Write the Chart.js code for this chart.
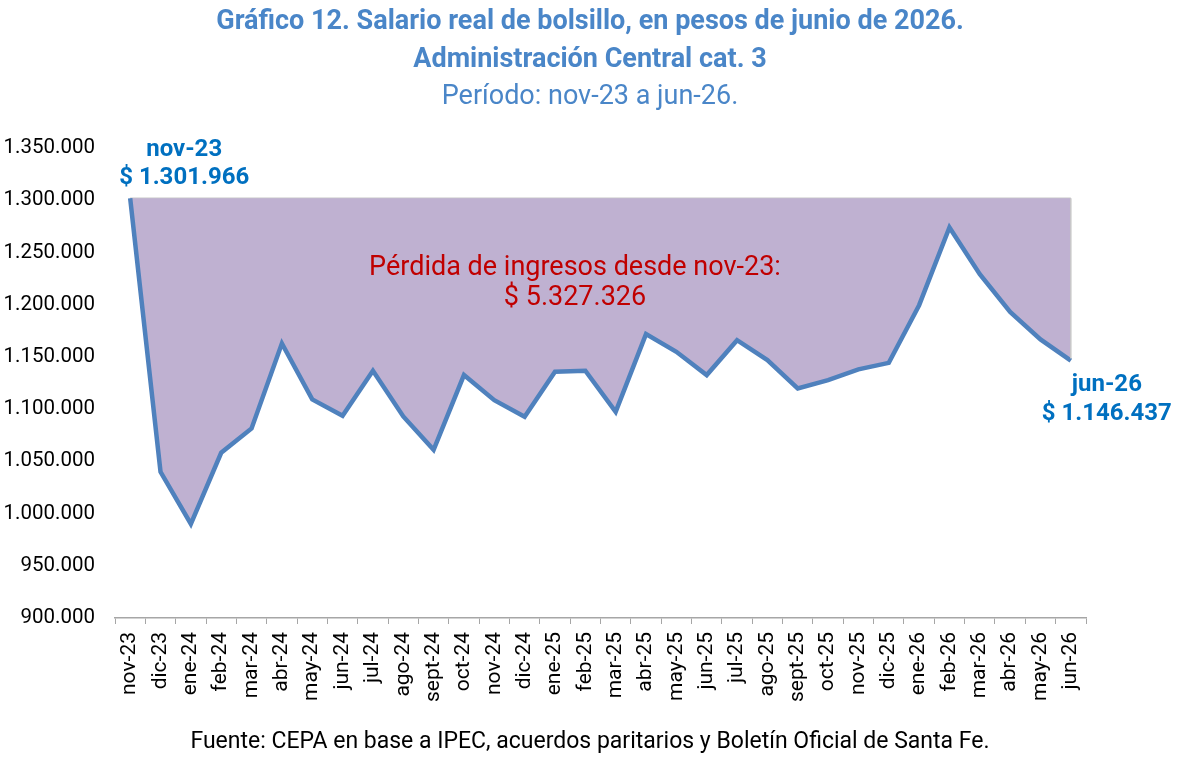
<!DOCTYPE html>
<html lang="es">
<head>
  <meta charset="UTF-8">
  <title>Salario real de bolsillo - Administración Central cat. 3</title>
  <script src="https://cdn.jsdelivr.net/npm/chart.js"></script>
  <style>
    html, body { margin: 0; padding: 0; background: #fff; }
    #wrap { width: 1180px; height: 758px; position: relative; }
  </style>
</head>
<body>
  <div id="wrap"><canvas id="salarioChart"></canvas></div>

  <script>
    // Meses del período
    var meses = [
      'nov-23', 'dic-23', 'ene-24', 'feb-24', 'mar-24', 'abr-24', 'may-24', 'jun-24',
      'jul-24', 'ago-24', 'sept-24', 'oct-24', 'nov-24', 'dic-24', 'ene-25', 'feb-25',
      'mar-25', 'abr-25', 'may-25', 'jun-25', 'jul-25', 'ago-25', 'sept-25', 'oct-25',
      'nov-25', 'dic-25', 'ene-26', 'feb-26', 'mar-26', 'abr-26', 'may-26', 'jun-26'
    ];

    // Salario real de bolsillo, pesos de junio de 2026
    var salarioReal = [
      1301966, 1040000, 990000, 1058200, 1081500, 1162900, 1109300, 1093600,
      1136700, 1093000, 1061000, 1132600, 1108600, 1092700, 1135700, 1136700,
      1097400, 1171800, 1154900, 1132600, 1166000, 1146900, 1119800, 1127800,
      1138000, 1144300, 1199500, 1273900, 1229200, 1193100, 1166700, 1146437
    ];

    // Nivel de referencia: salario de nov-23
    var salarioBase = 1301966;
    var lineaBase = meses.map(function() { return salarioBase; });

    // Eje Y
    var ejeMin = 900000;
    var ejeMax = 1350000;
    var ejePaso = 50000;

    var tituloLineas = [
      'Gráfico 12. Salario real de bolsillo, en pesos de junio de 2026.',
      'Administración Central cat. 3'
    ];
    var subtitulo = 'Período: nov-23 a jun-26.';
    var fuente = 'Fuente: CEPA en base a IPEC, acuerdos paritarios y Boletín Oficial de Santa Fe.';
    var perdidaTexto = ['Pérdida de ingresos desde nov-23:', '$ 5.327.326'];
    var inicioTexto = ['nov-23', '$ 1.301.966'];
    var finTexto = ['jun-26', '$ 1.146.437'];

    function formatoMiles(v) {
      return String(v).replace(/\B(?=(\d{3})+(?!\d))/g, '.');
    }

    // Textos del gráfico: títulos, notas y fuente
    var textosPlugin = {
      id: 'textos',
      afterDraw: function(chart) {
        var ctx = chart.ctx;
        var x = chart.scales.x;
        var y = chart.scales.y;
        ctx.save();
        ctx.textAlign = 'center';
        ctx.textBaseline = 'middle';

        // borde derecho del área sombreada
        var ultimo = salarioReal.length - 1;
        ctx.strokeStyle = '#c8c8c8';
        ctx.lineWidth = 1.5;
        ctx.beginPath();
        ctx.moveTo(x.getPixelForValue(ultimo), y.getPixelForValue(salarioBase));
        ctx.lineTo(x.getPixelForValue(ultimo), y.getPixelForValue(salarioReal[ultimo]) - 2);
        ctx.stroke();

        ctx.fillStyle = '#4a86c8';
        ctx.font = 'bold 27px Roboto';
        ctx.fillText(tituloLineas[0], 590, 22);
        ctx.fillText(tituloLineas[1], 590, 60);
        ctx.font = '27px Roboto';
        ctx.fillText(subtitulo, 590, 97);

        ctx.fillStyle = '#0070c0';
        ctx.font = 'bold 24px Roboto';
        var x0 = x.getPixelForValue(0);
        ctx.fillText(inicioTexto[0], x0 + 54, 150);
        ctx.fillText(inicioTexto[1], x0 + 54, 178);
        var x1 = x.getPixelForValue(ultimo);
        ctx.fillText(finTexto[0], x1 + 36, 385);
        ctx.fillText(finTexto[1], x1 + 36, 414);

        ctx.fillStyle = '#c00000';
        ctx.font = '27px Roboto';
        ctx.fillText(perdidaTexto[0], 575, 268);
        ctx.fillText(perdidaTexto[1], 575, 298);

        ctx.fillStyle = '#000';
        ctx.font = '23px Roboto';
        ctx.fillText(fuente, 590, 742);
        ctx.restore();
      }
    };

    var ctx = document.getElementById('salarioChart').getContext('2d');
    new Chart(ctx, {
      type: 'line',
      data: {
        labels: meses,
        datasets: [{
          label: 'Salario real',
          data: salarioReal,
          borderColor: '#4f81bd',
          borderWidth: 4.5,
          pointRadius: 0,
          tension: 0,
          fill: 1,
          backgroundColor: '#bfb1d1'
        }, {
          label: 'nov-23',
          data: lineaBase,
          borderColor: '#c8c8c8',
          borderWidth: 1.5,
          pointRadius: 0,
          fill: false
        }]
      },
      options: {
        responsive: true,
        maintainAspectRatio: false,
        animation: false,
        layout: { padding: { top: 148, right: 94, bottom: 0, left: 0 } },
        plugins: {
          legend: { display: false },
          tooltip: { enabled: false }
        },
        scales: {
          x: {
            offset: true,
            grid: { display: true, drawOnChartArea: false, offset: true, tickLength: 6, color: '#a6a6a6' },
            border: { color: '#a6a6a6', width: 1.5 },
            ticks: {
              autoSkip: false,
              maxRotation: 90,
              minRotation: 90,
              padding: 8,
              color: '#000',
              font: { family: 'Roboto', size: 21 }
            },
            afterFit: function(scale) { scale.height = 140; }
          },
          y: {
            min: ejeMin,
            max: ejeMax,
            grid: { display: false },
            border: { display: false },
            ticks: {
              stepSize: ejePaso,
              padding: 12,
              color: '#000',
              font: { family: 'Roboto', size: 20.5 },
              callback: function(v) { return formatoMiles(v); }
            },
            afterFit: function(scale) { scale.width = 115; }
          }
        }
      },
      plugins: [textosPlugin]
    });
  </script>
</body>
</html>
